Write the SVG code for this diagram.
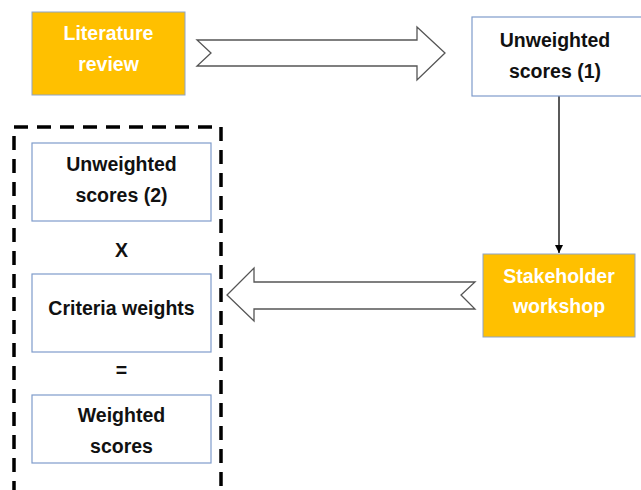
<svg xmlns="http://www.w3.org/2000/svg" width="641" height="490" viewBox="0 0 641 490">
<defs>
<style>
.t{font-family:"Liberation Sans",Arial,sans-serif;font-weight:bold;font-size:19.5px;text-anchor:middle}
.dk{fill:#111}
.wt{fill:#fff}
.or{fill:#FFC000;stroke:#8EA4C8;stroke-width:1}
.wb{fill:#fff;stroke:#7F9CCB;stroke-width:1.2}
.bl{fill:#fff;stroke:#555;stroke-width:1.3}
</style>
<marker id="ah" viewBox="0 0 10 10" refX="10" refY="5" markerWidth="8" markerHeight="8" markerUnits="userSpaceOnUse" orient="auto">
<path d="M0,0 L10,5 L0,10 z" fill="#000"/>
</marker>
</defs>
<rect width="641" height="490" fill="#fff"/>
<g id="connectors">
<path class="bl" d="M197,40 L417,40 L417,27 L445,53 L417,80 L417,66 L197,66 L211,53 Z"/>
<line x1="559" y1="96" x2="559" y2="253" stroke="#000" stroke-width="1.3" marker-end="url(#ah)"/>
<path class="bl" d="M475,282 L254,282 L254,268 L227,295 L254,321 L254,309 L475,309 L461,295 Z"/>
</g>
<g id="group-box">
<path d="M14,495 L14,127 L221,127 L221,495" fill="none" stroke="#000" stroke-width="3.5" stroke-dasharray="14 9"/>
</g>
<g id="literature-review">
<rect class="or" x="32" y="12" width="153" height="83"/>
<text class="t wt" x="108.5" y="40">Literature</text>
<text class="t wt" x="108.5" y="71">review</text>
</g>
<g id="unweighted-scores-1">
<rect class="wb" x="472" y="17" width="180" height="79"/>
<text class="t dk" x="555" y="47">Unweighted</text>
<text class="t dk" x="555" y="78">scores (1)</text>
</g>
<g id="stakeholder-workshop">
<rect class="or" x="483" y="254" width="152" height="83"/>
<text class="t wt" x="559" y="283">Stakeholder</text>
<text class="t wt" x="559" y="313">workshop</text>
</g>
<g id="unweighted-scores-2">
<rect class="wb" x="32" y="143" width="179" height="78"/>
<text class="t dk" x="121.5" y="171">Unweighted</text>
<text class="t dk" x="121.5" y="202">scores (2)</text>
</g>
<g id="times">
<text class="t dk" x="121.5" y="257">X</text>
</g>
<g id="criteria-weights">
<rect class="wb" x="32" y="274" width="179" height="78"/>
<text class="t dk" x="121.5" y="315">Criteria weights</text>
</g>
<g id="equals">
<text class="t dk" x="121.5" y="377">=</text>
</g>
<g id="weighted-scores">
<rect class="wb" x="32" y="395" width="179" height="68"/>
<text class="t dk" x="121.5" y="422">Weighted</text>
<text class="t dk" x="121.5" y="453">scores</text>
</g>
</svg>
